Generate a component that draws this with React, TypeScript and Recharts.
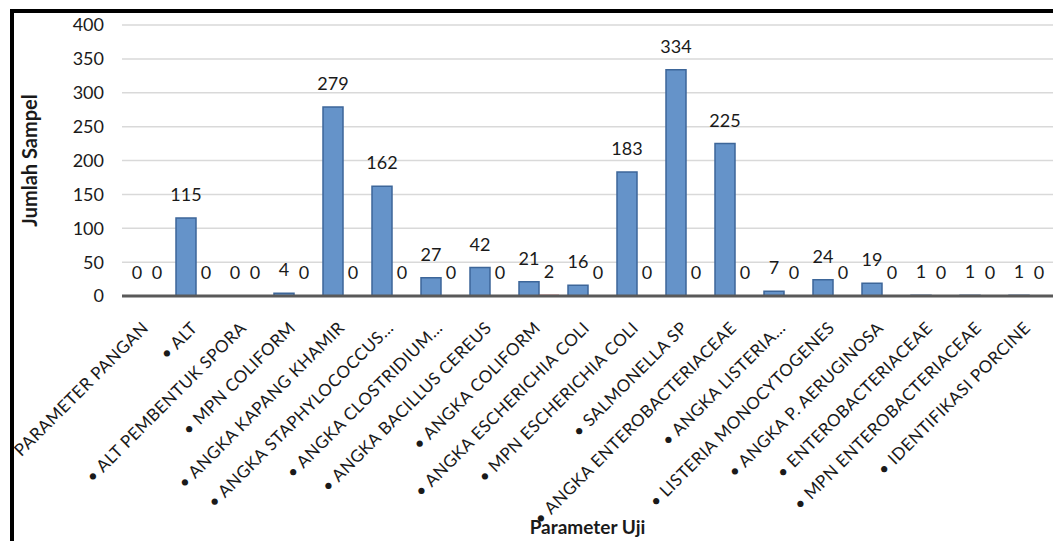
import React from 'react';
import { BarChart, Bar, XAxis, YAxis, CartesianGrid, LabelList, Label, Cell } from 'recharts';

const categories = [
  'PARAMETER PANGAN',
  '•  ALT',
  '•  ALT PEMBENTUK SPORA',
  '•  MPN COLIFORM',
  '•  ANGKA KAPANG KHAMIR',
  '•  ANGKA STAPHYLOCOCCUS…',
  '•  ANGKA CLOSTRIDIUM…',
  '•  ANGKA BACILLUS CEREUS',
  '•  ANGKA COLIFORM',
  '•  ANGKA ESCHERICHIA COLI',
  '•  MPN ESCHERICHIA COLI',
  '•  SALMONELLA SP',
  '•  ANGKA ENTEROBACTERIACEAE',
  '•  ANGKA LISTERIA…',
  '•  LISTERIA MONOCYTOGENES',
  '•  ANGKA P. AERUGINOSA',
  '•  ENTEROBACTERIACEAE',
  '•  MPN ENTEROBACTERIACEAE',
  '•  IDENTIFIKASI PORCINE',
];

const seriesBlue = [0, 115, 0, 4, 279, 162, 27, 42, 21, 16, 183, 334, 225, 7, 24, 19, 1, 1, 1];
const seriesRed = [0, 0, 0, 0, 0, 0, 0, 0, 2, 0, 0, 0, 0, 0, 0, 0, 0, 0, 0];
const yTicks = [0, 50, 100, 150, 200, 250, 300, 350, 400];

const data = categories.map((name, i) => ({ name, blue: seriesBlue[i], red: seriesRed[i] }));

const FONT = 'Lato, "Open Sans", sans-serif';

const XTick = (props: any) => {
  const { x, y, payload } = props;
  const tx = x + 3;
  const ty = y + 33;
  return (
    <text
      x={tx}
      y={ty}
      transform={`rotate(-45 ${tx} ${ty})`}
      textAnchor="end"
      fontFamily={FONT}
      fontSize={17}
      letterSpacing={0.45}
      fill="#1a1a1a"
    >
      {payload.value}
    </text>
  );
};

const zeroMin = (value: any) => (value === 0 ? 0.01 : 0);

export default function App() {
  return (
    <div style={{ position: 'absolute', left: 0, top: 0, width: 1053, height: 541, overflow: 'hidden', background: '#fff' }}>
      <div
        style={{
          position: 'absolute',
          left: 10,
          top: 9,
          width: 1200,
          height: 700,
          border: '4px solid #000',
          boxSizing: 'border-box',
        }}
      />
      <div style={{ position: 'absolute', left: 0, top: 0 }}>
        <BarChart
          width={1053}
          height={541}
          data={data}
          margin={{ top: 25, right: 0, bottom: 0, left: 0 }}
          barSize={20}
          barGap={0}
        >
          <CartesianGrid vertical={false} stroke="#d9d9d9" strokeWidth={1.5} />
          <XAxis
            dataKey="name"
            interval={0}
            height={245}
            tickLine={false}
            tickSize={0}
            tickMargin={0}
            axisLine={{ stroke: '#595959', strokeWidth: 3 }}
            tick={<XTick />}
          >
            <Label
              value="Parameter Uji"
              position="insideBottom"
              offset={7}
              style={{ fontFamily: FONT, fontSize: 19, fontWeight: 700, fill: '#1a1a1a' }}
            />
          </XAxis>
          <YAxis
            width={122}
            domain={[0, 400]}
            ticks={yTicks}
            interval={0}
            axisLine={false}
            tickLine={false}
            tickSize={0}
            tickMargin={18}
            tick={{ fontFamily: FONT, fontSize: 18, fill: '#1a1a1a' }}
          >
            <Label
              value="Jumlah Sampel"
              angle={-90}
              position="insideLeft"
              offset={30}
              style={{ fontFamily: FONT, fontSize: 20, fontWeight: 700, fill: '#1a1a1a', textAnchor: 'middle' }}
            />
          </YAxis>
          <Bar dataKey="blue" fill="#6593c9" stroke="#3d6699" strokeWidth={1.5} minPointSize={zeroMin} isAnimationActive={false}>
            {seriesBlue.map((v, i) => (
              <Cell key={`b${i}`} stroke={v === 0 ? 'none' : '#3d6699'} />
            ))}
            <LabelList
              dataKey="blue"
              position="top"
              offset={17}
              style={{ fontFamily: FONT, fontSize: 18, fill: '#1a1a1a' }}
            />
          </Bar>
          <Bar dataKey="red" fill="#c0504d" minPointSize={zeroMin} isAnimationActive={false}>
            {seriesRed.map((v, i) => (
              <Cell key={`r${i}`} fill={v === 0 ? 'none' : '#c0504d'} />
            ))}
            <LabelList
              dataKey="red"
              position="top"
              offset={17}
              style={{ fontFamily: FONT, fontSize: 18, fill: '#1a1a1a' }}
            />
          </Bar>
        </BarChart>
      </div>
    </div>
  );
}
